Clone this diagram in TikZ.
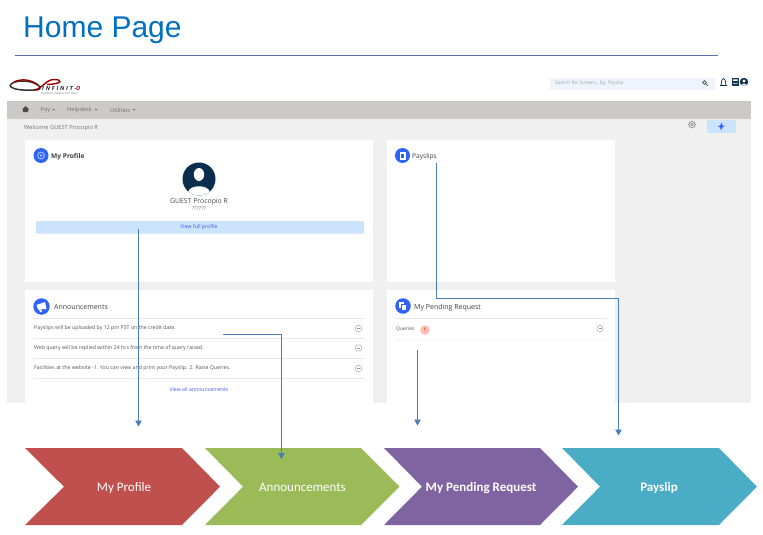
\documentclass[tikz,border=0pt]{standalone}
\usepackage{fontspec}
\setmainfont{Open Sans}
\newfontfamily\titlefont{Liberation Sans}
\newfontfamily\chevfont{Carlito}
\newfontfamily\logofont[LetterSpace=32]{Open Sans}
\newfontfamily\logosubfont[LetterSpace=12]{Open Sans}
\usetikzlibrary{arrows.meta}
\definecolor{titleblue}{HTML}{0070C0}
\definecolor{ruleblue}{HTML}{5A6FA8}
\definecolor{pagegray}{HTML}{F0F0F0}
\definecolor{navgray}{HTML}{CBCAC8}
\definecolor{iconblue}{HTML}{2E63F5}
\definecolor{btnblue}{HTML}{CCE3FD}
\definecolor{searchbg}{HTML}{EEF4FB}
\definecolor{linkblue}{HTML}{3F5BE8}
\definecolor{navy}{HTML}{0B2D4E}
\definecolor{conn}{HTML}{4A7EBB}
\definecolor{txtgray}{HTML}{555555}
\definecolor{sepgray}{HTML}{E8E8E8}
\definecolor{cred}{HTML}{C0504D}
\definecolor{cgreen}{HTML}{9BBB59}
\definecolor{cpurple}{HTML}{8064A2}
\definecolor{cteal}{HTML}{4BACC6}
\tikzset{
  x=1pt,y=-1pt,
  card/.style={fill=white,draw=none},
  cardtitle/.style={anchor=west,inner sep=0pt,font=\fontsize{6.6}{8}\selectfont\bfseries,text=black!75},
  small/.style={anchor=west,inner sep=0pt,font=\fontsize{5.25}{6}\selectfont,text=txtgray},
  navtext/.style={anchor=west,inner sep=0pt,font=\fontsize{5.7}{7}\selectfont,text=black!55},
  linktext/.style={inner sep=0pt,font=\fontsize{5.2}{6}\selectfont,text=linkblue},
  sep/.style={draw=sepgray,line width=0.8pt},
  roundicon/.style={circle,fill=iconblue,inner sep=0pt,minimum size=#1},
  goicon/.style={circle,draw=black!40,line width=0.4pt,fill=white,inner sep=0pt,minimum size=6.5pt},
  connector/.style={draw=conn,line width=0.9pt,-{Triangle[length=6pt,width=6.5pt]}},
  chevlabel/.style={text=white,inner sep=0pt,anchor=base,font=\chevfont\fontsize{13}{15}\selectfont},
}
\begin{document}
\begin{tikzpicture}
\useasboundingbox (0,0) rectangle (763,535);
\fill[white] (0,0) rectangle (763,535);
% title
\node[anchor=west,inner sep=0pt,text=titleblue,font=\titlefont\fontsize{30}{32}\selectfont] (title) at (23,30) {Home Page};
\draw[ruleblue,line width=0.6pt] (15,55) -- (718,55);
% page
\fill[pagegray] (7,118) rectangle (751,403);
\fill[navgray] (7,100.5) rectangle (751,118.5);
% logo
\draw[black!80,line width=1.5pt] (10,85.5) .. controls (13,80) and (28,79.5) .. (36,84) .. controls (40,86) and (44,90) .. (34,90) .. controls (24,90.5) and (12,90) .. (10,85.5);
\draw[red!60!black,line width=1.4pt] (14,82) .. controls (22,78) and (32,80) .. (38,85);
\draw[red!60!black,line width=1.4pt] (34,90) .. controls (42,89) and (46,79.5) .. (54,79.5) .. controls (63,79.5) and (63,84) .. (47,84.5);
\node[anchor=west,inner sep=0pt,font=\logofont\fontsize{5.6}{6}\selectfont\bfseries\itshape,text=black!85] (logo) at (42,88.8) {INFINIT-\textcolor{red!70!black}{O}};
\node[anchor=west,inner sep=0pt,font=\logosubfont\fontsize{2.9}{3}\selectfont,text=black!60] (logosub) at (41,93.6) {Endless Opportunities};
% top right
\fill[searchbg] (550,78) rectangle (715,90);
\node[small,text=black!35,font=\fontsize{4.8}{6}\selectfont] (search) at (555,83.5) {Search for Screens. Eg: Payslip};
\draw[black!70,line width=0.7pt] (704.5,82.5) circle (1.9) (706,84) -- (707.8,85.8);
\draw[navy!80!black,line width=0.7pt] (720,85.5) -- (727,85.5) (721,85.5) .. controls (721.5,84) and (721,79) .. (723.5,78.5) .. controls (726,79) and (725.5,84) .. (726,85.5);
\fill[navy!90!gray] (732,78) rectangle (738.5,86);
\fill[white] (733,79.5) rectangle (737.5,81) (733,83) rectangle (737.5,83.5);
\fill[navy] (744,82) circle (4.2);
\fill[white] (744,81) circle (1.7);
\fill[white] (741,85.6) .. controls (741.5,83) and (746.5,83) .. (747,85.6) -- cycle;
% nav
\fill[black!70] (22,109.5) -- (25.5,106) -- (29,109.5) -- (28,109.5) -- (28,112) -- (23,112) -- (23,109.5) -- cycle;
\node[navtext] (navpay) at (40.5,110) {Pay};
\fill[black!55] (52,109) -- (55,109) -- (53.5,110.5) -- cycle;
\node[navtext] (navhelp) at (67,110) {Helpdesk};
\fill[black!55] (94.5,109) -- (97.5,109) -- (96,110.5) -- cycle;
\node[navtext] (navutil) at (110,110) {Utilities};
\fill[black!55] (132.5,109) -- (135.5,109) -- (134,110.5) -- cycle;
\node[navtext] (welcome) at (24,128.3) {Welcome GUEST Procopio R};
% gear & pin
\draw[black!50,line width=0.6pt,densely dotted] (692,124.5) circle (3.7);
\draw[black!50,line width=0.5pt] (692,124.5) circle (3) (692,124.5) circle (1.2);
\fill[btnblue] (706.5,120) rectangle (736,133);
\fill[iconblue] (721.5,122.5) -- (722.6,125.5) -- (725,126) -- (722.6,127) -- (721,130.5) -- (720.2,127.5) -- (718,126.5) -- (720.2,125.5) -- cycle;
% cards
\fill[card] (25,140) rectangle (373,282);
\fill[card] (387,140) rectangle (615,282);
\fill[card] (25,290) rectangle (373,403);
\fill[card] (387,290) rectangle (615,403);
% my profile
\node[roundicon=15pt] (profileicon) at (41,155.5) {};
\draw[white!60!iconblue,line width=0.9pt] (41,155.5) circle (3.4);
\fill[white!60!iconblue] (41,155.5) circle (1.3);
\node[cardtitle] (profiletitle) at (51,156.5) {My Profile};
\fill[navy] (199,179) circle (16.5);
\fill[white] (199,174.5) ellipse (5.2 and 6.5);
\begin{scope}
\clip (199,179) circle (16.5);
\fill[white] (188,193) .. controls (188,184) and (210,184) .. (210,193) -- (210,196) -- (188,196) -- cycle;
\end{scope}
\node[inner sep=0pt,font=\fontsize{6.9}{8}\selectfont,text=black!70] (guest) at (199,201.8) {GUEST Procopio R};
\node[inner sep=0pt,font=\fontsize{5.6}{6}\selectfont,text=black!50] (qmarks) at (199,208.5) {??????};
\fill[btnblue,rounded corners=1pt] (36,221) rectangle (364,233.5);
\node[linktext] (viewprofile) at (199,227.2) {View full profile};
% payslips
\node[roundicon=15pt] (payicon) at (402.5,155.5) {};
\fill[white] (399.5,151.5) rectangle (405.5,159.5);
\fill[iconblue] (401,154) rectangle (404,157.5);
\node[cardtitle,font=\fontsize{6.6}{8}\selectfont] (paytitle) at (412,157) {Payslips};
% announcements
\node[roundicon=16.5pt] (annicon) at (41.5,306.5) {};
\fill[white] (36.5,305) -- (45,302) -- (46.5,309) -- (38,309.5) -- cycle;
\fill[white] (39,309) -- (41,309) -- (42,312) -- (40,312) -- cycle;
\node[cardtitle,font=\fontsize{7}{8}\selectfont] (anntitle) at (54,307.3) {Announcements};
\draw[sep] (33,318) -- (365,318);
\draw[sep] (33,338) -- (365,338);
\draw[sep] (33,358) -- (365,358);
\draw[sep] (33,378) -- (365,378);
\node[small] (ann1) at (34,328.3) {Payslips will be uploaded by 12 pm PST on the credit date.};
\node[small] (ann2) at (34,348.3) {Web query will be replied within 24 hrs from the time of query raised.};
\node[small] (ann3) at (34,368.3) {Facilities at the website -1. You can view and print your Payslip. 2. Raise Queries.};
\node[goicon] (go1) at (358.5,328.5) {};
\node[goicon] (go2) at (358.5,348) {};
\node[goicon] (go3) at (358.5,368.5) {};
\foreach \n in {go1,go2,go3} \draw[black!40,line width=0.3pt] ([xshift=-1.5pt]\n.center) -- ([xshift=1.5pt]\n.center);
\node[linktext] (viewall) at (199,390) {View all announcements};
% pending
\node[roundicon=15.5pt] (penicon) at (403,306) {};
\fill[white] (399,302) rectangle (404,308);
\fill[white,draw=iconblue,line width=0.4pt] (401.5,304.5) rectangle (406.5,310.5);
\node[cardtitle,font=\fontsize{7}{8}\selectfont] (pentitle) at (414,307.3) {My Pending Request};
\draw[sep] (395,318) -- (607,318);
\draw[black!4,line width=0.5pt] (395,340.5) -- (607,340.5);
\node[small,font=\fontsize{5}{6}\selectfont] (queries) at (396,329.5) {Queries};
\node[circle,fill=orange!30!red!30,inner sep=0pt,minimum size=9.5pt,font=\fontsize{4.8}{6}\selectfont,text=red!70!black] (badge) at (425,330) {1};
\node[goicon] (go4) at (600,328.5) {};
\draw[black!40,line width=0.3pt] ([xshift=-1.5pt]go4.center) -- ([xshift=1.5pt]go4.center);
% chevrons
\fill[cred] (25,448) -- (182,448) -- (220,486.7) -- (182,525) -- (25,525) -- (64,486.7) -- cycle;
\fill[cgreen] (205,448) -- (361,448) -- (399.5,486.7) -- (361,525) -- (205,525) -- (243,486.7) -- cycle;
\fill[cpurple] (384,448) -- (540,448) -- (578,486.7) -- (540,525) -- (384,525) -- (422,486.7) -- cycle;
\fill[cteal] (562,448) -- (719,448) -- (757,486.7) -- (719,525) -- (562,525) -- (600,486.7) -- cycle;
\node[chevlabel] (chprofile) at (124,491) {My Profile};
\node[chevlabel] (chann) at (302.5,491) {Announcements};
\node[chevlabel,font=\chevfont\bfseries\fontsize{13}{15}\selectfont] (chpend) at (481,491) {My Pending Request};
\node[chevlabel,font=\chevfont\bfseries\fontsize{13}{15}\selectfont] (chpay) at (659,491) {Payslip};
% connectors
\coordinate (a1s) at (138.5,229);
\coordinate (a1e) at (138.5,426.5);
\coordinate (a2s) at (223,334);
\coordinate (a2e) at (281.5,459);
\coordinate (a3s) at (417.5,350);
\coordinate (a3e) at (417.5,425.5);
\coordinate (a4s) at (436.5,163);
\coordinate (a4e) at (618.5,435.5);
\draw[connector] (a1s) -- (a1e);
\draw[connector] (a2s) -- (a2s -| a2e) -- (a2e);
\draw[connector] (a3s) -- (a3e);
\draw[connector] (a4s) -- (a4s |- 0,298.5) -- (a4e |- 0,298.5) -- (a4e);
\end{tikzpicture}
\end{document}
